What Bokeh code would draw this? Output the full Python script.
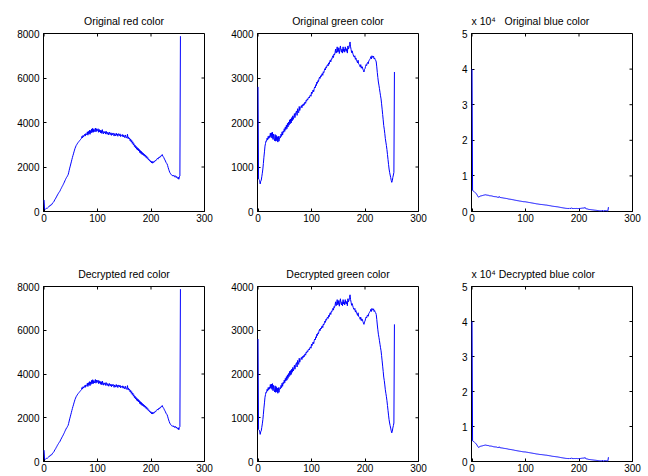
import math
from bokeh.plotting import figure
from bokeh.layouts import column, row
from bokeh.models import Range1d, FixedTicker, Title
from bokeh.embed import file_html
from bokeh.resources import INLINE

bins = list(range(256))

red_counts = [
    520, 110, 90, 120, 130, 150, 140, 170, 190, 220, 250, 240, 290, 310, 300, 340,
    380, 400, 430, 470, 525, 560, 600, 650, 690, 740, 780, 820, 860, 890, 930, 990,
    1030, 1080, 1130, 1170, 1220, 1270, 1320, 1380, 1430, 1480, 1530, 1560, 1610, 1650, 1740, 1850,
    1950, 2040, 2135, 2230, 2330, 2420, 2510, 2590, 2680, 2760, 2840, 2900, 2960, 3000, 3040, 3080,
    3110, 3140, 3170, 3200, 3230, 3260, 3290, 3380, 3310, 3420, 3360, 3410, 3470, 3390, 3500, 3440,
    3470, 3580, 3430, 3600, 3490, 3650, 3470, 3640, 3530, 3710, 3560, 3740, 3560, 3700, 3590, 3660,
    3750, 3580, 3720, 3610, 3680, 3720, 3560, 3690, 3580, 3660, 3530, 3640, 3510, 3680, 3540, 3490,
    3600, 3530, 3580, 3480, 3610, 3520, 3470, 3560, 3530, 3440, 3570, 3500, 3460, 3540, 3420, 3510,
    3450, 3530, 3470, 3390, 3500, 3450, 3400, 3520, 3430, 3480, 3380, 3500, 3460, 3410, 3490, 3370,
    3450, 3420, 3380, 3460, 3350, 3430, 3380, 3320, 3440, 3360, 3300, 3340, 3470, 3280, 3350, 3260,
    3300, 3180, 3250, 3120, 3190, 3060, 3130, 2990, 3050, 2920, 2990, 2860, 2930, 2800, 2880, 2760,
    2840, 2720, 2790, 2650, 2740, 2610, 2700, 2570, 2650, 2540, 2610, 2500, 2570, 2470, 2530, 2420,
    2480, 2380, 2420, 2330, 2360, 2280, 2310, 2230, 2270, 2180, 2250, 2170, 2240, 2200, 2260, 2240,
    2300, 2280, 2330, 2360, 2390, 2350, 2420, 2440, 2410, 2480, 2460, 2520, 2510, 2560, 2490, 2460,
    2420, 2360, 2320, 2270, 2210, 2170, 2140, 2070, 1980, 1900, 1830, 1760, 1720, 1680, 1650, 1630,
    1610, 1640, 1590, 1620, 1560, 1580, 1600, 1530, 1570, 1500, 1490, 1540, 1450, 1560, 1600, 7880,
]

green_counts = [
    2800, 730, 720, 700, 620, 680, 700, 780, 860, 955, 1080, 1220, 1340, 1470, 1530, 1590,
    1580, 1650, 1610, 1690, 1640, 1700, 1660, 1760, 1680, 1770, 1650, 1780, 1620, 1740, 1640, 1590,
    1730, 1580, 1710, 1590, 1680, 1560, 1690, 1580, 1620, 1690, 1660, 1740, 1690, 1790, 1720, 1810,
    1780, 1860, 1800, 1900, 1840, 1940, 1860, 1980, 1900, 2010, 1940, 2060, 1970, 2080, 1990, 2110,
    2040, 2150, 2070, 2120, 2200, 2110, 2190, 2230, 2260, 2160, 2310, 2250, 2220, 2360, 2270, 2330,
    2345, 2380, 2330, 2400, 2370, 2420, 2390, 2440, 2460, 2430, 2500, 2480, 2530, 2510, 2560, 2570,
    2550, 2600, 2620, 2590, 2685, 2650, 2700, 2730, 2690, 2760, 2800, 2780, 2850, 2830, 2910, 2880,
    2940, 2920, 2980, 3020, 2990, 3050, 3030, 3080, 3100, 3060, 3140, 3120, 3170, 3210, 3180, 3250,
    3230, 3280, 3300, 3270, 3340, 3310, 3370, 3400, 3360, 3430, 3420, 3470, 3500, 3460, 3540, 3520,
    3570, 3650, 3560, 3620, 3700, 3580, 3600, 3680, 3550, 3640, 3720, 3625, 3580, 3650, 3560, 3700,
    3600, 3650, 3580, 3700, 3620, 3600, 3660, 3560, 3720, 3650, 3680, 3750, 3810, 3700, 3640, 3570,
    3610, 3560, 3520, 3480, 3470, 3500, 3420, 3450, 3390, 3380, 3340, 3400, 3320, 3300, 3290, 3250,
    3300, 3220, 3260, 3250, 3200, 3170, 3135, 3190, 3210, 3260, 3300, 3280, 3330, 3350, 3320, 3380,
    3400, 3420, 3440, 3480, 3430, 3500, 3470, 3460, 3490, 3430, 3450, 3410, 3400, 3360, 3250, 3120,
    3010, 2910, 2840, 2760, 2680, 2600, 2530, 2420, 2300, 2180, 2060, 1930, 1850, 1750, 1640, 1560,
    1480, 1390, 1280, 1170, 1060, 955, 880, 820, 765, 700, 655, 690, 765, 820, 880, 3135,
]

blue_counts = [
    40000, 5900, 5800, 5700, 5600, 5450, 5300, 5150, 4970, 4750, 4500, 4250, 4030, 4100, 4200, 4310,
    4350, 4400, 4420, 4460, 4500, 4550, 4600, 4650, 4620, 4690, 4660, 4630, 4600, 4580, 4500, 4550,
    4480, 4420, 4450, 4380, 4400, 4340, 4300, 4320, 4220, 4250, 4180, 4200, 4150, 4090, 4130, 4050,
    4000, 4050, 3940, 4200, 3950, 3930, 3900, 3880, 3860, 3840, 3800, 3780, 3750, 3730, 3700, 3690,
    3660, 3640, 3600, 3580, 3520, 3500, 3470, 3460, 3430, 3410, 3380, 3350, 3320, 3300, 3260, 3220,
    3190, 3160, 3140, 3110, 3080, 3050, 3020, 3000, 2970, 2940, 2910, 2900, 2870, 2840, 2810, 2780,
    2760, 2750, 2740, 2730, 2720, 2690, 2660, 2640, 2610, 2580, 2550, 2530, 2500, 2480, 2440, 2420,
    2390, 2370, 2340, 2310, 2290, 2260, 2230, 2200, 2160, 2150, 2130, 2100, 2080, 2060, 2030, 2000,
    1990, 1980, 1970, 1950, 1930, 1910, 1890, 1870, 1850, 1830, 1810, 1800, 1780, 1750, 1720, 1700,
    1670, 1640, 1620, 1600, 1560, 1530, 1500, 1480, 1460, 1440, 1420, 1400, 1380, 1360, 1340, 1320,
    1310, 1280, 1250, 1220, 1190, 1160, 1130, 1100, 1070, 1050, 1030, 1000, 980, 950, 920, 900,
    880, 870, 860, 850, 840, 820, 1000, 830, 850, 840, 1050, 830, 840, 820, 840, 860,
    840, 850, 830, 860, 840, 820, 850, 830, 840, 860, 880, 870, 900, 920, 940, 960,
    980, 960, 940, 1150, 900, 800, 760, 750, 700, 650, 600, 580, 560, 540, 520, 500,
    480, 460, 440, 420, 400, 380, 375, 350, 330, 310, 290, 270, 250, 230, 210, 190,
    190, 170, 150, 140, 350, 120, 100, 100, 300, 120, 280, 260, 110, 130, 190, 1220,
]

x_ticks = [0, 100, 200, 300]
red_ticks = [0, 2000, 4000, 6000, 8000]
green_ticks = [0, 1000, 2000, 3000, 4000]
blue_ticks = [0, 10000, 20000, 30000, 40000, 50000]
blue_tick_labels = ["0", "1", "2", "3", "4", "5"]
blue_exponent = "x 10\u2074"

titles = [
    ["Original red color", "Original green color", "Original blue color"],
    ["Decrypted red color", "Decrypted green color", "Decrypted blue color"],
]

FONT = "Liberation Sans"
FRAME_W, FRAME_H = 161, 178
NB = "\u00a0"


def style_axis(ax, ticks, standoff):
    ax.ticker = FixedTicker(ticks=ticks)
    ax.major_tick_in = 3
    ax.major_tick_out = 0
    ax.minor_tick_line_color = None
    ax.axis_line_color = "black"
    ax.major_tick_line_color = "black"
    ax.major_label_text_font = FONT
    ax.major_label_text_font_size = "10px"
    ax.major_label_text_color = "black"
    ax.major_label_standoff = standoff


def make(title, counts, yend, yticks, left, right, top, bottom, overrides=None, sci_gap=None):
    # x range starts a hair below 0 so the bin-0 spike is not half clipped by the frame
    p = figure(width=left + FRAME_W + right, height=top + FRAME_H + bottom,
               output_backend="svg", toolbar_location=None,
               x_range=Range1d(-1, 300), y_range=Range1d(0, yend),
               min_border_left=left, min_border_right=right,
               min_border_top=top, min_border_bottom=bottom)
    if sci_gap is None:
        text, align = title, "center"
    else:
        text, align = blue_exponent + NB * sci_gap + title, "left"
    p.title = Title(text=text, align=align, text_font=FONT, text_font_size="10.5px",
                    text_font_style="normal", text_color="black", standoff=14)
    p.xgrid.visible = False
    p.ygrid.visible = False
    p.outline_line_color = "black"
    p.background_fill_color = "white"
    p.border_fill_color = "white"
    style_axis(p.xaxis[0], x_ticks, 2)
    style_axis(p.yaxis[0], yticks, 4)
    if overrides:
        p.yaxis[0].major_label_overrides = overrides
    # inward ticks on the top and right edges of the box
    p.ray(x=x_ticks, y=[yend] * len(x_ticks), length=3, angle=-math.pi / 2,
          length_units="screen", line_color="black", line_width=1)
    p.ray(x=[300] * len(yticks), y=yticks, length=3, angle=math.pi,
          length_units="screen", line_color="black", line_width=1)
    ln = p.line(bins, counts, line_color="#0000ff", line_width=1)
    ln.level = "overlay"
    return p


series = [red_counts, green_counts, blue_counts]
yends = [8000, 4000, 50000]
yticks_list = [red_ticks, green_ticks, blue_ticks]
overrides_list = [None, None, dict(zip(blue_ticks, blue_tick_labels))]
lefts = [43, 43, 43]
rights = [10, 10, 14]
tops = [33, 25]
bottoms = [47, 15]
sci_gaps = [3, 1]

rows = []
for r in range(2):
    figs = []
    for c in range(3):
        figs.append(make(titles[r][c], series[c], yends[c], yticks_list[c],
                         lefts[c], rights[c], tops[r], bottoms[r],
                         overrides=overrides_list[c],
                         sci_gap=(sci_gaps[r] if c == 2 else None)))
    rows.append(row(*figs))

layout = column(*rows)

with open("out.html", "w") as f:
    f.write(file_html(layout, INLINE))
